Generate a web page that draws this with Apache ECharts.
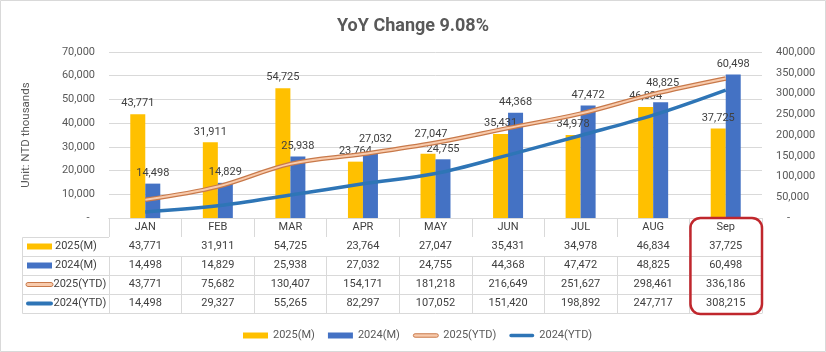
<!DOCTYPE html>
<html>
<head>
<meta charset="utf-8">
<script src="https://cdn.jsdelivr.net/npm/echarts@6/dist/echarts.min.js"></script>
<style>
  html, body { margin: 0; padding: 0; background: #fff; }
  #chart { width: 826px; height: 352px; }
</style>
</head>
<body>
<div id="chart"></div>
<script>
// ---- data ----
const months = ['JAN', 'FEB', 'MAR', 'APR', 'MAY', 'JUN', 'JUL', 'AUG', 'Sep'];
const m2025 = [43771, 31911, 54725, 23764, 27047, 35431, 34978, 46834, 37725];
const m2024 = [14498, 14829, 25938, 27032, 24755, 44368, 47472, 48825, 60498];
const ytd2025 = [43771, 75682, 130407, 154171, 181218, 216649, 251627, 298461, 336186];
const ytd2024 = [14498, 29327, 55265, 82297, 107052, 151420, 198892, 247717, 308215];
const seriesNames = ['2025(M)', '2024(M)', '2025(YTD)', '2024(YTD)'];
const titleText = 'YoY Change 9.08%';
const yAxisName = 'Unit: NTD thousands';
const leftAxis = { min: 0, max: 70000, interval: 10000 };
const rightAxis = { min: 0, max: 400000, interval: 50000 };

// ---- styling / layout ----
const FONT = 'Roboto, "Noto Sans", sans-serif';
const C_Y = '#FFC000', C_B = '#4472C4', C_O_OUT = '#C8794A', C_O_IN = '#F8CBAD', C_L = '#2E75B6';
const GRID = { left: 109, right: 64, top: 52, bottom: 134 };
const ROW = 19;
const TXT = '#404040', AX = '#595959', LINE = '#D9D9D9';
const nudge2024 = { 3: [5, -4], 7: [2, -8] };
const nudge2025 = { 4: [3, -9] };

const fmt = v => v.toLocaleString('en-US');
const rows = [m2025, m2024, ytd2025, ytd2024];

function barData(arr, nudge) {
  return arr.map((v, i) => nudge[i] ? { value: v, label: { offset: nudge[i] } } : v);
}

const tableAxes = [];
tableAxes.push({
  type: 'category', data: months, position: 'bottom', offset: 0,
  axisLine: { show: true, lineStyle: { color: LINE, width: 1 } },
  axisTick: { show: true, interval: 0, length: ROW, lineStyle: { color: LINE } },
  axisLabel: { interval: 0, margin: 4, color: TXT, fontSize: 11, fontFamily: FONT }
});
rows.forEach((r, k) => {
  tableAxes.push({
    type: 'category', data: months, position: 'bottom', offset: ROW * (k + 1),
    axisLine: { show: true, lineStyle: { color: LINE, width: 1 } },
    axisTick: { show: true, interval: 0, length: ROW, lineStyle: { color: LINE } },
    axisLabel: { interval: 0, margin: 4, color: TXT, fontSize: 11, fontFamily: FONT,
      formatter: (v, i) => fmt(r[i]) }
  });
});
tableAxes.push({
  type: 'category', data: months, position: 'bottom', offset: ROW * 5,
  axisLine: { show: true, lineStyle: { color: LINE, width: 1 } },
  axisTick: { show: false }, axisLabel: { show: false }
});

const chart = echarts.init(document.getElementById('chart'), null, { renderer: 'canvas' });
const pill = 'path://M2,0 H27 A2,2 0 0 1 27,4 H2 A2,2 0 0 1 2,0 Z';

const option = {
  backgroundColor: '#fff',
  animation: false,
  textStyle: { fontFamily: FONT },
  title: {
    text: titleText, left: 'center', top: 12,
    textStyle: { fontSize: 18, fontWeight: 'bold', color: AX, fontFamily: FONT }
  },
  grid: GRID,
  legend: {
    top: 325, left: 238, itemWidth: 25, itemHeight: 6, itemGap: 13,
    textStyle: { fontSize: 11, color: AX, fontFamily: FONT },
    data: [
      { name: seriesNames[0], icon: 'rect', itemStyle: { color: C_Y } },
      { name: seriesNames[1], icon: 'rect', itemStyle: { color: C_B } },
      { name: seriesNames[2], icon: pill,
        itemStyle: { color: C_O_IN, borderColor: C_O_OUT, borderWidth: 1 } },
      { name: seriesNames[3], icon: pill, itemStyle: { color: C_L } }
    ]
  },
  xAxis: tableAxes,
  yAxis: [
    {
      type: 'value', min: leftAxis.min, max: leftAxis.max, interval: leftAxis.interval,
      name: yAxisName, nameLocation: 'middle', nameGap: 77,
      nameTextStyle: { color: AX, fontSize: 11.5, fontFamily: FONT },
      axisLine: { show: false }, axisTick: { show: false },
      splitLine: { lineStyle: { color: LINE } },
      axisLabel: { margin: 14, color: AX, fontSize: 11, fontFamily: FONT,
        formatter: v => v === 0 ? '-  ' : fmt(v) }
    },
    {
      type: 'value', min: rightAxis.min, max: rightAxis.max, interval: rightAxis.interval,
      axisLine: { show: false }, axisTick: { show: false }, splitLine: { show: false },
      axisLabel: { margin: 14, color: AX, fontSize: 11, fontFamily: FONT,
        formatter: v => v === 0 ? '    -' : fmt(v) }
    }
  ],
  series: [
    { name: seriesNames[0], type: 'bar', xAxisIndex: 0, yAxisIndex: 0, barWidth: 15, barGap: '0%',
      itemStyle: { color: C_Y }, data: barData(m2025, nudge2025),
      label: { show: true, position: 'top', distance: 5, color: TXT, fontSize: 11, fontFamily: FONT,
        formatter: p => fmt(p.value) } },
    { name: seriesNames[1], type: 'bar', xAxisIndex: 0, yAxisIndex: 0, barWidth: 15, barGap: '0%',
      itemStyle: { color: C_B }, data: barData(m2024, nudge2024),
      label: { show: true, position: 'top', distance: 5, color: TXT, fontSize: 11, fontFamily: FONT,
        formatter: p => fmt(p.value) } },
    { name: seriesNames[2], type: 'line', xAxisIndex: 0, yAxisIndex: 1, smooth: 0.35, symbol: 'none',
      lineStyle: { color: C_O_OUT, width: 4.5 }, itemStyle: { color: C_O_OUT }, data: ytd2025, z: 3 },
    { name: seriesNames[2], type: 'line', xAxisIndex: 0, yAxisIndex: 1, smooth: 0.35, symbol: 'none',
      lineStyle: { color: C_O_IN, width: 2 }, itemStyle: { color: C_O_IN }, data: ytd2025, z: 4 },
    { name: seriesNames[3], type: 'line', xAxisIndex: 0, yAxisIndex: 1, smooth: 0.35, symbol: 'none',
      lineStyle: { color: C_L, width: 3.5 }, itemStyle: { color: C_L }, data: ytd2024, z: 5 }
  ]
};
chart.setOption(option);

// ---- row-label column of the data table + highlight box ----
const x0 = chart.convertToPixel({ xAxisIndex: 0 }, 0);
const x1 = chart.convertToPixel({ xAxisIndex: 0 }, 1);
const bw = x1 - x0;
const yBase = chart.convertToPixel({ yAxisIndex: 0 }, 0);
const gLeft = x0 - bw / 2;
const colLeft = 22.5;
const g = [];
g.push({ type: 'rect', silent: true, shape: { x: 0.5, y: 0.5, width: 825, height: 351 },
  style: { fill: 'none', stroke: LINE, lineWidth: 1 } });
for (let k = 0; k <= 4; k++) {
  const y = Math.round(yBase + ROW * (k + 1)) + 0.5;
  g.push({ type: 'line', silent: true, shape: { x1: colLeft, y1: y, x2: gLeft, y2: y },
    style: { stroke: LINE, lineWidth: 1 } });
}
g.push({ type: 'line', silent: true,
  shape: { x1: colLeft, y1: Math.round(yBase + ROW) + 0.5, x2: colLeft, y2: Math.round(yBase + ROW * 5) + 0.5 },
  style: { stroke: LINE, lineWidth: 1 } });
seriesNames.forEach((n, k) => {
  const cy = yBase + ROW * (k + 1) + ROW / 2;
  if (k < 2) {
    g.push({ type: 'rect', silent: true, shape: { x: 27, y: cy - 3, width: 25, height: 6 },
      style: { fill: k === 0 ? C_Y : C_B } });
  } else {
    g.push({ type: 'rect', silent: true, shape: { x: 26, y: cy - 2, width: 27, height: 4, r: 2 },
      style: k === 2 ? { fill: C_O_IN, stroke: C_O_OUT, lineWidth: 1 } : { fill: C_L } });
  }
  g.push({ type: 'text', silent: true, x: k < 2 ? 55 : 53.5, y: cy,
    style: { text: n, fill: TXT, font: '11px ' + FONT, textVerticalAlign: 'middle', textAlign: 'left' } });
});
const xs = chart.convertToPixel({ xAxisIndex: 0 }, 8);
g.push({ type: 'rect', silent: true, z: 100,
  shape: { x: xs - bw / 2 + 1, y: yBase, width: bw - 1, height: ROW * 5 + 1, r: 10 },
  style: { fill: 'none', stroke: '#C0272D', lineWidth: 2.5 } });
chart.setOption({ graphic: g });
</script>
</body>
</html>
